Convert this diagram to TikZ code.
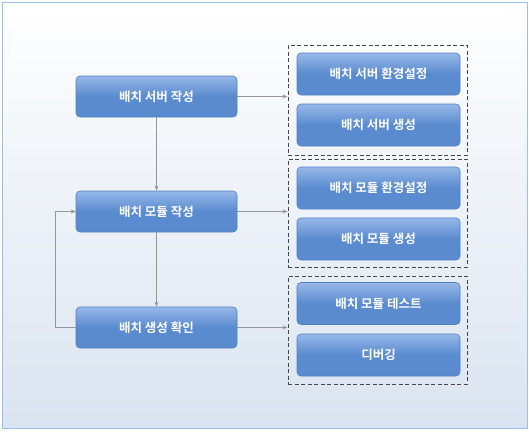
\documentclass[tikz,border=0pt]{standalone}
\usepackage{fontspec}
\newfontfamily\kr[BoldFont={Noto Sans CJK KR Bold}]{Noto Sans CJK KR}
\usetikzlibrary{arrows.meta}
\definecolor{frameblue}{RGB}{160,190,228}
\definecolor{bgbottom}{RGB}{218,228,240}
\definecolor{boxtop}{RGB}{150,184,232}
\definecolor{boxmain}{RGB}{90,139,207}
\definecolor{boxline}{RGB}{80,126,196}
\definecolor{conn}{RGB}{150,150,150}
\definecolor{dashc}{RGB}{70,70,70}
\tikzset{
  blk/.style={rectangle, rounded corners=4pt, draw=boxline, line width=0.6pt,
    top color=boxtop, bottom color=boxmain, middle color=boxmain,
    minimum width=161pt, minimum height=41pt, inner sep=0pt,
    text=white, font=\kr\bfseries\fontsize{12.5}{14}\selectfont},
  grp/.style={draw=dashc, dashed, line width=1pt, dash pattern=on 4pt off 2.5pt},
  cn/.style={draw=conn, line width=0.8pt, -{Stealth[length=5pt,width=4pt]}},
}
\begin{document}
\begin{tikzpicture}[x=1pt,y=-1pt]
\useasboundingbox (0,0) rectangle (529,431);
\shade[top color=white, bottom color=bgbottom] (2.5,2.5) rectangle (527,428.5);
\draw[frameblue, line width=1pt] (2.5,2.5) rectangle (527,428.5);
% groups
\node[grp, minimum width=179pt, minimum height=110pt, inner sep=0pt] (g1) at (377.5,100) {};
\node[grp, minimum width=179pt, minimum height=108pt, inner sep=0pt] (g2) at (377.5,213) {};
\node[grp, minimum width=179pt, minimum height=108pt, inner sep=0pt] (g3) at (377.5,330) {};
% left boxes
\node[blk] (a) at (156.5,96.5) {배치 서버 작성};
\node[blk] (b) at (156.5,211.5) {배치 모듈 작성};
\node[blk] (c) at (156.5,327.5) {배치 생성 확인};
% right boxes
\node[blk, minimum width=163pt, minimum height=42pt] (r1) at (378.5,74) {배치 서버 환경설정};
\node[blk, minimum width=163pt, minimum height=42pt] (r2) at (378.5,125) {배치 서버 생성};
\node[blk, minimum width=163pt, minimum height=42pt] (r3) at (378.5,188) {배치 모듈 환경설정};
\node[blk, minimum width=163pt, minimum height=42pt] (r4) at (378.5,239) {배치 모듈 생성};
\node[blk, minimum width=163pt, minimum height=42pt] (r5) at (378.5,303.5) {배치 모듈 테스트};
\node[blk, minimum width=163pt, minimum height=42pt] (r6) at (378.5,355) {디버깅};
% connectors
\draw[cn] (a.east) -- (a.east -| g1.west);
\draw[cn] (b.east) -- (b.east -| g2.west);
\draw[cn] (c.east) -- (c.east -| g3.west);
\draw[cn] (a.south) -- (b.north);
\draw[cn] (b.south) -- (c.north);
\coordinate (lp) at (55,0);
\draw[cn] (c.west) -- (c.west -| lp) -- (b.west -| lp) -- (b.west);
\end{tikzpicture}
\end{document}
